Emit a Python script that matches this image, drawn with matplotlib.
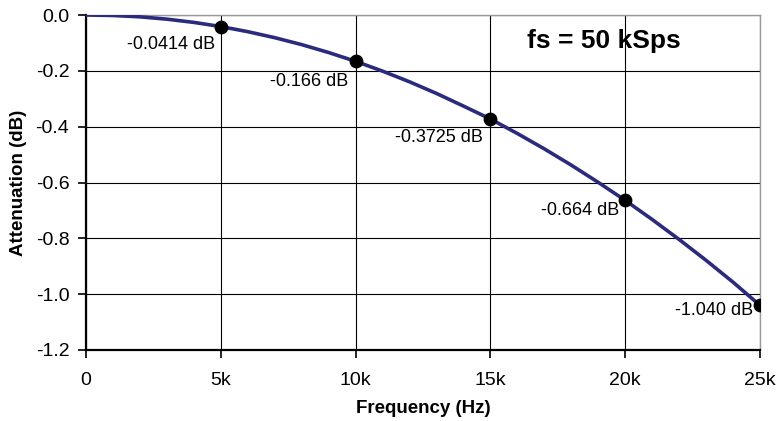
import matplotlib
matplotlib.use("Agg")
import matplotlib.pyplot as plt

plt.rcParams['font.family'] = ['Liberation Sans', 'DejaVu Sans']

# Curve (Hz, dB)
curve_freq = [0, 1000, 2000, 3000, 4000, 5000, 6000, 7000, 8000, 9000, 10000,
              11000, 12000, 13000, 14000, 15000, 16000, 17000, 18000, 19000,
              20000, 21000, 22000, 23000, 24000, 25000]
curve_att = [0.0, -0.0017, -0.0066, -0.0149, -0.0265, -0.0414, -0.0597, -0.0812,
             -0.1061, -0.1344, -0.166, -0.2010, -0.2393, -0.2810, -0.3262, -0.3725,
             -0.4245, -0.4795, -0.5378, -0.5995, -0.664, -0.7325, -0.8040, -0.8788,
             -0.9570, -1.040]

# Marked points
pt_freq = [5000, 10000, 15000, 20000, 25000]
pt_att = [-0.0414, -0.166, -0.3725, -0.664, -1.040]
pt_labels = ['-0.0414 dB', '-0.166 dB', '-0.3725 dB', '-0.664 dB', '-1.040 dB']

x_ticks = [0, 5000, 10000, 15000, 20000, 25000]
x_ticklabels = ['0', '5k', '10k', '15k', '20k', '25k']
y_ticks = [0.0, -0.2, -0.4, -0.6, -0.8, -1.0, -1.2]
y_ticklabels = ['0.0', '-0.2', '-0.4', '-0.6', '-0.8', '-1.0', '-1.2']

fig = plt.figure(figsize=(7.78, 4.21), dpi=100)
ax = fig.add_axes([86/778, 71/421, 674/778, 335/421])

ax.plot(curve_freq, curve_att, color='#2b2b7e', lw=2.6, zorder=3)
ax.scatter(pt_freq, pt_att, s=80, color='black', zorder=4)

offsets = [(-6, -18), (-7, -20), (-8, -19), (-6, -10), (-7, -5)]
for x, y, t, off in zip(pt_freq, pt_att, pt_labels, offsets):
    ax.annotate(t, (x, y), xytext=off, textcoords='offset pixels',
                ha='right', va='center', fontsize=13, zorder=5)

ax.text(19200, -0.093, 'fs = 50 kSps', fontsize=19, fontweight='bold',
        ha='center', va='center', zorder=5)

ax.set_xlim(0, 25000)
ax.set_ylim(-1.2, 0.0)
ax.set_xticks(x_ticks)
ax.set_xticklabels(x_ticklabels)
ax.set_yticks(y_ticks)
ax.set_yticklabels(y_ticklabels)
ax.tick_params(axis='both', direction='out', length=6, width=1.2, labelsize=14)
ax.tick_params(axis='x', pad=10)
ax.tick_params(axis='y', pad=6)

ax.grid(True, color='black', lw=0.8)
ax.set_axisbelow(True)

for s in ['left', 'bottom']:
    ax.spines[s].set_linewidth(1.6)
    ax.spines[s].set_color('black')
for s in ['top', 'right']:
    ax.spines[s].set_linewidth(1.0)
    ax.spines[s].set_color('#9a9a9a')

ax.set_xlabel('Frequency (Hz)', fontsize=13.5, fontweight='bold', labelpad=8)
ax.set_ylabel('Attenuation (dB)', fontsize=13.5, fontweight='bold', labelpad=6)

fig.savefig('out.png', dpi=100)
